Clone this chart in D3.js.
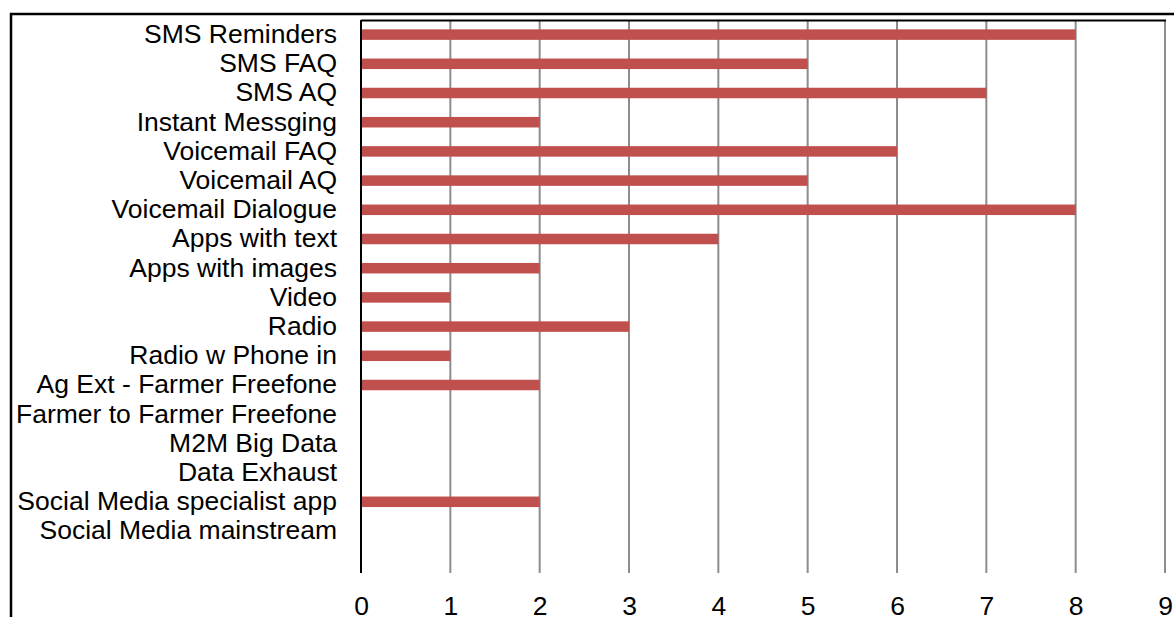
<!DOCTYPE html>
<html>
<head>
<meta charset="utf-8">
<script src="https://cdn.jsdelivr.net/npm/d3@7"></script>
<style>
  html, body { margin: 0; padding: 0; background: #fff; }
  svg { display: block; }
  text { font-family: "Liberation Sans", Arial, sans-serif; fill: #000; }
</style>
</head>
<body>
<svg id="chart" width="1174" height="617"></svg>
<script>
// Channels, listed top to bottom
const categories = [
  "SMS Reminders",
  "SMS FAQ",
  "SMS AQ",
  "Instant Messging",
  "Voicemail FAQ",
  "Voicemail AQ",
  "Voicemail Dialogue",
  "Apps with text",
  "Apps with images",
  "Video",
  "Radio",
  "Radio w Phone in",
  "Ag Ext - Farmer Freefone",
  "Farmer to Farmer Freefone",
  "M2M Big Data",
  "Data Exhaust",
  "Social Media specialist app",
  "Social Media mainstream"
];
const counts = [8, 5, 7, 2, 6, 5, 8, 4, 2, 1, 3, 1, 2, 0, 0, 0, 2, 0];
const xTicks = [0, 1, 2, 3, 4, 5, 6, 7, 8, 9];

const svg = d3.select("#chart");

// plot frame
const plotLeft = 361, plotRight = 1165, plotTop = 20, plotBottom = 573;
const rowsBottom = 545.6;
const fontSize = "26.5px";

const x = d3.scaleLinear().domain([0, 9]).range([plotLeft, plotRight]);
const y = d3.scaleBand().domain(categories).range([plotTop, rowsBottom])
  .paddingInner(0.64).paddingOuter(0.32);

// outer chart border
svg.append("rect")
  .attr("x", 11).attr("y", 14)
  .attr("width", 1174).attr("height", 640)
  .attr("fill", "none").attr("stroke", "#000").attr("stroke-width", 2.5);

// vertical gridlines
svg.append("g")
  .selectAll("line")
  .data(xTicks.filter(d => d > 0))
  .join("line")
  .attr("x1", d => x(d)).attr("x2", d => x(d))
  .attr("y1", plotTop).attr("y2", plotBottom)
  .attr("stroke", "#8c8c8c").attr("stroke-width", 2);

// top edge of plot area
svg.append("line")
  .attr("x1", plotLeft).attr("x2", plotRight + 1)
  .attr("y1", plotTop + 0.5).attr("y2", plotTop + 0.5)
  .attr("stroke", "#000").attr("stroke-width", 2);

// bars
svg.append("g")
  .selectAll("rect")
  .data(categories.map((c, i) => ({ c, v: counts[i] })).filter(d => d.v > 0))
  .join("rect")
  .attr("x", x(0))
  .attr("y", d => y(d.c))
  .attr("width", d => x(d.v) - x(0))
  .attr("height", y.bandwidth())
  .attr("fill", "#c0504d");

// category axis
const yAxis = d3.axisLeft(y).tickSize(0).tickPadding(24);
const gy = svg.append("g").attr("transform", `translate(${plotLeft},0)`).call(yAxis);
gy.select(".domain").remove();
gy.selectAll("text").style("font-size", fontSize)
  .style("font-family", "'Liberation Sans', Arial, sans-serif").attr("fill", "#000");

svg.append("line")
  .attr("x1", plotLeft).attr("x2", plotLeft)
  .attr("y1", plotTop).attr("y2", plotBottom)
  .attr("stroke", "#000").attr("stroke-width", 2);

// value axis labels
const xAxis = d3.axisBottom(x).tickValues(xTicks).tickSize(0).tickPadding(0)
  .tickFormat(d3.format("d"));
const gx = svg.append("g").attr("transform", `translate(0,${plotBottom})`).call(xAxis);
gx.select(".domain").remove();
gx.selectAll("text").attr("dy", null).attr("y", 42)
  .style("font-size", fontSize)
  .style("font-family", "'Liberation Sans', Arial, sans-serif").attr("fill", "#000");
</script>
</body>
</html>
